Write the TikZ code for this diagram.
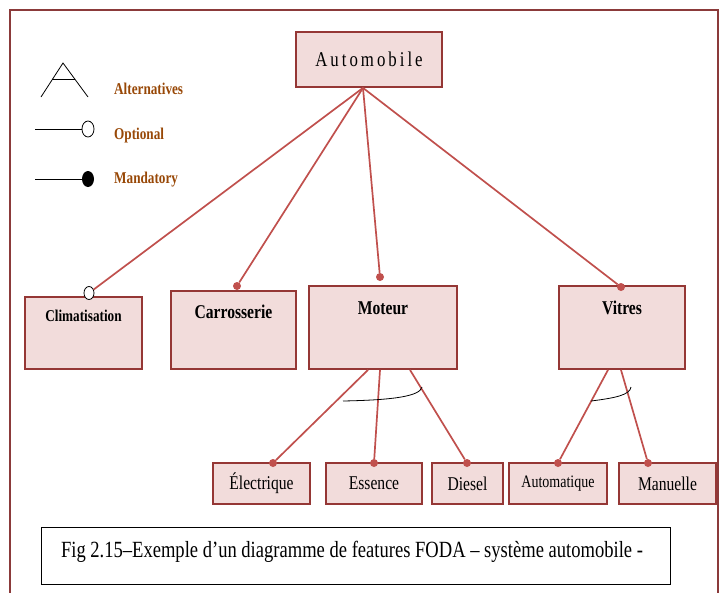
\documentclass[tikz,border=0pt]{standalone}
\usepackage{fontspec}
\setmainfont{Liberation Serif}[FakeStretch=0.8]
\usetikzlibrary{shapes.geometric}
\definecolor{lnred}{HTML}{C0504D}
\definecolor{bxred}{HTML}{953735}
\definecolor{bxfill}{HTML}{F2DCDB}
\definecolor{framered}{HTML}{8B3A3A}
\definecolor{legbrown}{HTML}{984807}
\begin{document}
\begin{tikzpicture}[x=1pt,y=-1pt,
  fbox/.style={draw=bxred, fill=bxfill, line width=1.8pt, inner sep=0pt},
  conn/.style={draw=lnred, line width=1.7pt},
  mdot/.style={circle, fill=lnred, inner sep=0pt, minimum size=8pt},
  odot/.style={ellipse, draw=black, fill=white, line width=0.8pt, inner sep=0pt, minimum width=10pt, minimum height=13pt},
  bl/.style={font=\fontsize{19.5}{22}\selectfont\bfseries},
  sl/.style={font=\fontsize{19.5}{22}\selectfont},
  leg/.style={font=\fontsize{16.5}{18}\selectfont\bfseries, text=legbrown, anchor=west, inner sep=0pt},
  thin/.style={draw=black, line width=0.8pt},
]
\useasboundingbox (0,0) rectangle (723,592);
% frame
\draw[framered, line width=2pt] (10,593) -- (10,10) -- (718,10) -- (718,593);

% legend
\draw[thin] (41,97) -- (63,63) -- (88,97);
\draw[thin] (52,79) -- (75,79);
\node[odot, minimum width=12pt, minimum height=16pt] (optc) at (88,129) {};
\draw[thin] (35,129) -- (optc);
\node[ellipse, fill=black, inner sep=0pt, minimum width=12pt, minimum height=16pt] (mandc) at (88,179) {};
\draw[thin] (35,179) -- (mandc);
\node[leg] (lalt) at (114,89) {Alternatives};
\node[leg] (lopt) at (114,136) {Optional};
\node[leg] (lman) at (114,180) {Mandatory};

% root
\node[fbox, minimum width=146pt, minimum height=55pt, font=\fontsize{21}{24}\selectfont] (auto) at (369,59.5)
  {A\hspace{3pt}u\hspace{3pt}t\hspace{3pt}o\hspace{3pt}m\hspace{3pt}o\hspace{3pt}b\hspace{3pt}i\hspace{3pt}l\hspace{3pt}e};
\coordinate (hub) at ([xshift=-6pt]auto.south);

% level 1
\node[fbox, minimum width=117pt, minimum height=72pt,
  label={[font=\fontsize{16.5}{18}\selectfont\bfseries, anchor=center, yshift=-20pt]north:Climatisation}] (clim) at (83.5,333) {};
\node[fbox, minimum width=125pt, minimum height=78pt,
  label={[bl, anchor=center, yshift=-22pt]north:Carrosserie}] (carr) at (233.5,330) {};
\node[fbox, minimum width=148pt, minimum height=83pt,
  label={[bl, anchor=center, yshift=-23pt]north:Moteur}] (mot) at (383,327.5) {};
\node[fbox, minimum width=126pt, minimum height=83pt,
  label={[bl, anchor=center, yshift=-23pt]north:Vitres}] (vit) at (622,327.5) {};

\node[odot] (dclim) at (89,293) {};
\node[mdot] (dcarr) at (237,286) {};
\node[mdot] (dmot) at (380,277) {};
\node[mdot] (dvit) at (621,287) {};

\draw[conn] (hub) -- (dclim);
\draw[conn] (hub) -- (dcarr);
\draw[conn] (hub) -- (dmot);
\draw[conn] (hub) -- (dvit);

% level 2
\node[fbox, minimum width=97pt, minimum height=41pt, sl] (elec) at (261.5,483.5) {Électrique};
\node[fbox, minimum width=96pt, minimum height=41pt, sl] (ess) at (374,483.5) {Essence};
\node[fbox, minimum width=71pt, minimum height=41pt, sl] (dies) at (467.5,483.5) {Diesel};
\node[fbox, minimum width=98pt, minimum height=41pt, font=\fontsize{17.5}{20}\selectfont] (autom) at (558,483.5) {Automatique};
\node[fbox, minimum width=97pt, minimum height=41pt, sl] (man) at (667.5,483.5) {Manuelle};

\node[mdot] (delec) at (273,463) {};
\node[mdot] (dess) at (374,463) {};
\node[mdot] (ddies) at (467,463) {};
\node[mdot] (dautom) at (558,463) {};
\node[mdot] (dman) at (648,463) {};

\draw[conn] ([xshift=-15pt]mot.south) -- (delec);
\draw[conn] ([xshift=-3pt]mot.south) -- (dess);
\draw[conn] ([xshift=27pt]mot.south) -- (ddies);
\draw[conn] ([xshift=-14pt]vit.south) -- (dautom);
\draw[conn] ([xshift=-1pt]vit.south) -- (dman);

% alternative arcs
\draw[thin] (343,401) .. controls (395,400) and (420,396) .. (422,387);
\draw[thin] (591,401) .. controls (615,398) and (630,395) .. (631,387);

% caption
\node[draw=black, fill=white, line width=0.8pt, minimum width=629pt, minimum height=57pt, inner sep=0pt,
  label={[font=\fontsize{23.2}{26}\selectfont, anchor=center, xshift=-3.5pt, yshift=4pt]center:Fig 2.15–Exemple d’un diagramme de features FODA – système automobile -}] (cap) at (355.5,555.5) {};
\end{tikzpicture}
\end{document}
